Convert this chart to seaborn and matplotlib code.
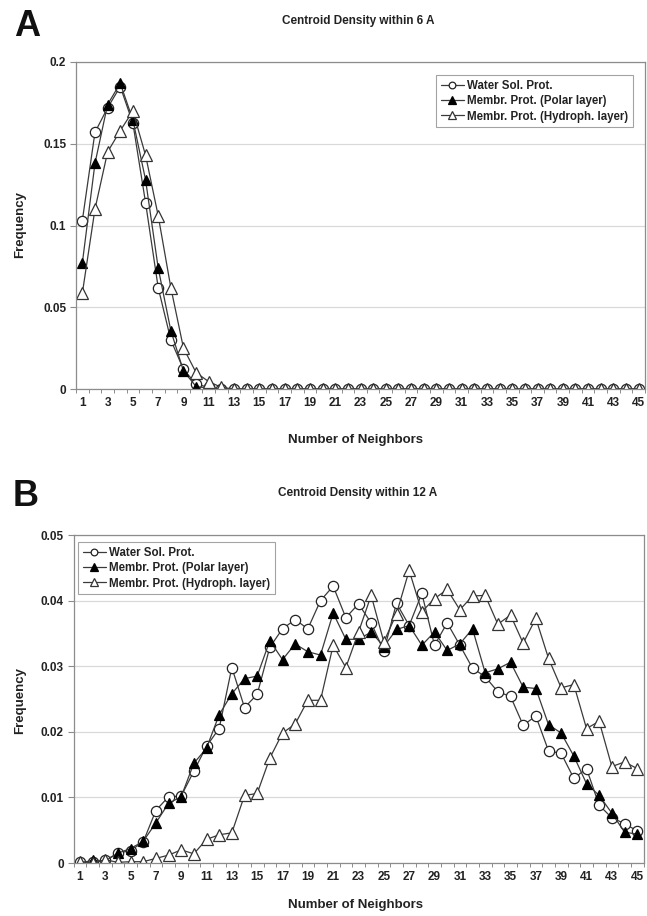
import numpy as np
import pandas as pd
import matplotlib
matplotlib.use("Agg")
import matplotlib.pyplot as plt
import seaborn as sns
from matplotlib.ticker import MultipleLocator, FixedLocator

sns.set_theme(style="white")
plt.rcParams['font.family'] = ['Liberation Sans', 'DejaVu Sans']

neighbors = list(range(1, 46))
xtick_labels = [str(i) for i in range(1, 46, 2)]
series_names = ["Water Sol. Prot.", "Membr. Prot. (Polar layer)", "Membr. Prot. (Hydroph. layer)"]

# Panel A: within 6 A
water_6 = [0.103, 0.157, 0.172, 0.185, 0.1625, 0.114, 0.062, 0.030, 0.012, 0.003, 0.001] + [0.0] * 34
polar_6 = [0.077, 0.138, 0.174, 0.187, 0.1645, 0.128, 0.074, 0.0357, 0.011, 0.0015, 0.0005] + [0.0] * 34
hydro_6 = [0.0585, 0.110, 0.145, 0.158, 0.170, 0.143, 0.106, 0.062, 0.025, 0.010, 0.0045, 0.001] + [0.0] * 33

# Panel B: within 12 A
water_12 = [0.0002, 0.0001, 0.0004, 0.0015, 0.0019, 0.0032, 0.0080, 0.0101, 0.0102, 0.0140,
            0.0178, 0.0205, 0.0298, 0.0237, 0.0257, 0.0329, 0.0357, 0.0371, 0.0357, 0.0400,
            0.0422, 0.0374, 0.0395, 0.0366, 0.0323, 0.0396, 0.0362, 0.0411, 0.0332, 0.0366,
            0.0332, 0.0297, 0.0284, 0.0261, 0.0254, 0.0210, 0.0224, 0.0171, 0.0167, 0.0129,
            0.0144, 0.0088, 0.0069, 0.0060, 0.0049]
polar_12 = [0.0000, 0.0004, 0.0003, 0.0015, 0.0022, 0.0033, 0.0061, 0.0091, 0.0101, 0.0152,
            0.0175, 0.0226, 0.0258, 0.0281, 0.0285, 0.0339, 0.0310, 0.0334, 0.0322, 0.0317,
            0.0381, 0.0341, 0.0341, 0.0352, 0.0330, 0.0356, 0.0362, 0.0332, 0.0352, 0.0324,
            0.0334, 0.0357, 0.0290, 0.0296, 0.0306, 0.0268, 0.0266, 0.0211, 0.0198, 0.0163,
            0.0121, 0.0103, 0.0076, 0.0047, 0.0044]
hydro_12 = [0.0002, 0.0000, 0.0005, 0.0001, 0.0002, 0.0002, 0.0007, 0.0012, 0.0020, 0.0014,
            0.0036, 0.0043, 0.0046, 0.0103, 0.0106, 0.0160, 0.0198, 0.0212, 0.0248, 0.0248,
            0.0332, 0.0298, 0.0352, 0.0408, 0.0337, 0.0380, 0.0446, 0.0383, 0.0403, 0.0417,
            0.0386, 0.0407, 0.0408, 0.0364, 0.0378, 0.0335, 0.0373, 0.0312, 0.0267, 0.0272,
            0.0205, 0.0216, 0.0147, 0.0154, 0.0144]

W, H = 647, 916
fig = plt.figure(figsize=(W / 100, H / 100), dpi=100)
fig.patch.set_facecolor("white")

def px_axes(left, right, top, bottom):
    return fig.add_axes([left / W, 1 - bottom / H, (right - left) / W, (bottom - top) / H])

axA = px_axes(76, 645, 62, 389)
axB = px_axes(73.5, 643.5, 535, 863)

styles = [
    dict(marker="o", markerfacecolor="white", markeredgecolor="#222222", markersize=7.4),
    dict(marker="^", markerfacecolor="black", markeredgecolor="black", markersize=7.8),
    dict(marker="^", markerfacecolor="white", markeredgecolor="#333333", markersize=8.0),
]

def draw(ax, data, ymax, ystep, legend_loc):
    for name, vals, st in zip(series_names, data, styles):
        df = pd.DataFrame({"n": neighbors, "freq": vals})
        sns.lineplot(data=df, x="n", y="freq", ax=ax, color="#3a3a3a", linewidth=0.9,
                     markeredgewidth=0.9, label=name, **st)
    ax.set_xlim(0.5, 45.5)
    ax.set_ylim(0, ymax)
    ax.xaxis.set_major_locator(FixedLocator(list(range(1, 46, 2))))
    ax.set_xticklabels(xtick_labels)
    ax.xaxis.set_minor_locator(FixedLocator([i + 0.5 for i in range(0, 46)]))
    ax.yaxis.set_major_locator(MultipleLocator(ystep))
    ax.grid(axis="y", color="#d9d9d9", linewidth=0.9)
    ax.set_axisbelow(True)
    for s in ["left", "bottom", "right", "top"]:
        ax.spines[s].set_color("#8c8c8c")
        ax.spines[s].set_linewidth(0.9)
    ax.tick_params(axis="x", which="major", length=0, labelsize=8.5, pad=6)
    ax.tick_params(axis="x", which="minor", length=3, color="#8c8c8c", width=0.7, bottom=True)
    ax.tick_params(axis="y", which="major", length=4, color="#8c8c8c", width=0.8, left=True,
                   labelsize=8.5, pad=3)
    for lab in ax.get_xticklabels() + ax.get_yticklabels():
        lab.set_fontweight("bold")
        lab.set_color("#222222")
    ax.set_xlabel("")
    ax.set_ylabel("")
    leg = ax.legend(loc=legend_loc, frameon=True, fancybox=False, fontsize=8.3,
                    handlelength=2.0, handletextpad=0.3, borderpad=0.4, labelspacing=0.3,
                    markerscale=0.65, borderaxespad=0.0)
    leg.get_frame().set_edgecolor("#8c8c8c")
    leg.get_frame().set_linewidth(0.8)
    for t in leg.get_texts():
        t.set_fontweight("bold")
        t.set_color("#222222")
    return leg

legA = draw(axA, [water_6, polar_6, hydro_6], 0.2, 0.05, "upper right")
legA.set_bbox_to_anchor((633 / W, 1 - 75 / H), transform=fig.transFigure)
axA.set_yticks([0, 0.05, 0.1, 0.15, 0.2])
axA.set_yticklabels(["0", "0.05", "0.1", "0.15", "0.2"], fontweight="bold", color="#222222")

legB = draw(axB, [water_12, polar_12, hydro_12], 0.05, 0.01, "upper left")
legB.set_bbox_to_anchor((78 / W, 1 - 542 / H), transform=fig.transFigure)
axB.set_yticks([0, 0.01, 0.02, 0.03, 0.04, 0.05])
axB.set_yticklabels(["0", "0.01", "0.02", "0.03", "0.04", "0.05"], fontweight="bold", color="#222222")

def ftext(x, y, s, **kw):
    fig.text(x / W, 1 - y / H, s, **kw)

ftext(27, 27, "A", fontsize=26, fontweight="bold", ha="center", va="center", color="#111111")
ftext(26, 497, "B", fontsize=26, fontweight="bold", ha="center", va="center", color="#111111")
ftext(358, 21, "Centroid Density within 6 A", fontsize=8.5, fontweight="bold", ha="center", va="center", color="#222222")
ftext(358, 493, "Centroid Density within 12 A", fontsize=8.5, fontweight="bold", ha="center", va="center", color="#222222")
ftext(356, 440, "Number of Neighbors", fontsize=9.5, fontweight="bold", ha="center", va="center", color="#222222")
ftext(356, 905, "Number of Neighbors", fontsize=9.5, fontweight="bold", ha="center", va="center", color="#222222")
ftext(20, 225, "Frequency", fontsize=9.5, fontweight="bold", ha="center", va="center", rotation=90, color="#222222")
ftext(20, 700, "Frequency", fontsize=9.5, fontweight="bold", ha="center", va="center", rotation=90, color="#222222")

fig.savefig("out.png", dpi=100, facecolor="white")
